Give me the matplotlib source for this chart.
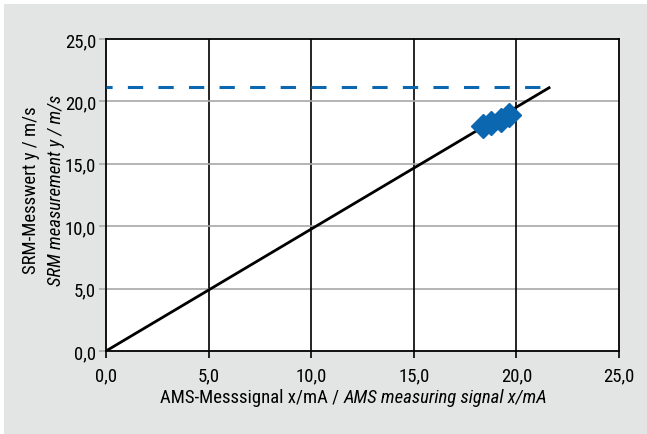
import numpy as np
import matplotlib
matplotlib.use("Agg")
import matplotlib.pyplot as plt
from matplotlib.patches import Rectangle
from matplotlib import font_manager

# data
line_x = [0.0, 21.65]
line_y = [0.0, 21.15]
ref_level = 21.15
pts_x = [18.35, 18.75, 19.25, 19.65]
pts_y = [18.0, 18.3, 18.5, 18.9]
ticks = [0, 5, 10, 15, 20, 25]
tick_labels = ["0,0", "5,0", "10,0", "15,0", "20,0", "25,0"]

BLUE = "#0a67b0"
BG = "#e3e4e4"

# narrow font if there is one, else Liberation Sans (Arial metrics)
installed = {f.name for f in font_manager.fontManager.ttflist}
narrow = [n for n in ["Liberation Sans Narrow", "Roboto Condensed", "Open Sans Condensed"]
          if n in installed]
if narrow:
    plt.rcParams["font.family"] = [narrow[0], "DejaVu Sans"]
    FS = 13.5
else:
    plt.rcParams["font.family"] = ["Liberation Sans", "DejaVu Sans"]
    FS = 11.5

fig = plt.figure(figsize=(6.47, 4.35), dpi=100)
fig.patch.set_facecolor("white")
# gray panel behind everything
fig.patches.append(Rectangle((4 / 647, 0), 1, 1 - 5 / 435, transform=fig.transFigure,
                             facecolor=BG, edgecolor="none", zorder=-10))

ax = fig.add_axes([106 / 647, 1 - 352 / 435, 513 / 647, 312 / 435])
ax.set_facecolor("white")
ax.set_xlim(0, 25)
ax.set_ylim(0, 25)

# grid: vertical black, horizontal gray
for t in ticks[1:-1]:
    ax.axvline(t, color="black", lw=1.2, zorder=1)
    ax.axhline(t, color="#a8a8a8", lw=1.2, zorder=1)

ax.plot([0, line_x[1]], [ref_level, ref_level], color=BLUE, lw=2.2,
        linestyle=(3, (5, 5)), zorder=3)
ax.plot(line_x, line_y, color="black", lw=2.0, zorder=4, solid_capstyle="butt")
ax.plot(pts_x, pts_y, linestyle="none", marker="D", ms=12, color=BLUE,
        mec=BLUE, zorder=5)

for s in ax.spines.values():
    s.set_color("black")
    s.set_linewidth(1.3)

ax.set_xticks(ticks)
ax.set_xticklabels(tick_labels)
ax.set_yticks(ticks)
ax.set_yticklabels(tick_labels)
ax.tick_params(axis="both", labelsize=FS, length=5, width=1.2, pad=4)
ax.tick_params(axis="y", colors="#a8a8a8", labelcolor="black", pad=2)
ax.tick_params(axis="x", pad=6)

# axis labels with mixed upright / italic parts
fig.canvas.draw()
r = fig.canvas.get_renderer()
ylab = 1 - 398 / 435
t1 = fig.text(0, ylab, "AMS-Messsignal x/mA / ", fontsize=FS, va="center")
t2 = fig.text(0, ylab, "AMS measuring signal x/mA", fontsize=FS, style="italic",
              va="center")
w1 = t1.get_window_extent(r).width
w2 = t2.get_window_extent(r).width
x0 = 354 - (w1 + w2) / 2
t1.set_x(x0 / 647)
t2.set_x((x0 + w1) / 647)

fig.text(31 / 647, 1 - 190 / 435, "SRM-Messwert y / m/s", rotation=90, fontsize=FS,
         ha="center", va="center")
fig.text(56 / 647, 1 - 190 / 435, "SRM measurement y / m/s", rotation=90, fontsize=FS,
         style="italic", ha="center", va="center")

fig.savefig("out.png", dpi=100)
